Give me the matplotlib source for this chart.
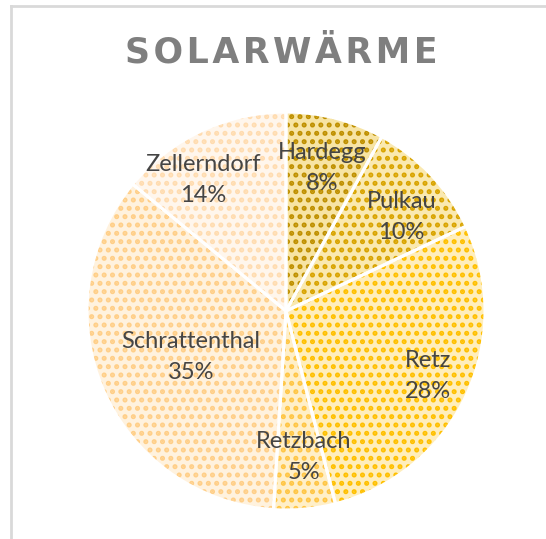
import matplotlib
matplotlib.use("Agg")
import matplotlib.pyplot as plt
import numpy as np

# data
towns = ["Hardegg", "Pulkau", "Retz", "Retzbach", "Schrattenthal", "Zellerndorf"]
shares = [8, 10, 28, 5, 35, 14]

# colours: background tint and pattern colour for each slice
bg_colors = ["#F7E4A4", "#FAE9B0", "#FFEEBC", "#FFEFC8", "#FFF2DE", "#FFF6EC"]
dot_colors = ["#BF9000", "#D9A400", "#FFC000", "#FFC645", "#FFCF88", "#FFDCB0"]
# label placement (radius, angle nudge in degrees)
label_r = [0.74, 0.75, 0.785, 0.74, 0.53, 0.777]
label_nudge = [0, -4, 0.5, 1.5, 2.5, 7]

plt.rcParams["hatch.linewidth"] = 2.4

fig = plt.figure(figsize=(5.46, 5.39), dpi=100)
ax = fig.add_axes([0.1593, 0.0538, 0.729, 0.7384])

wedges, _ = ax.pie(shares, startangle=90, counterclock=False, radius=1,
                   colors=bg_colors, wedgeprops=dict(linewidth=0))
for w, dc in zip(wedges, dot_colors):
    w.set_hatch("..")
    w.set_edgecolor(dc)
    w.set_linewidth(0)

# white separators drawn on top
outline, _ = ax.pie(shares, startangle=90, counterclock=False, radius=1,
                    wedgeprops=dict(facecolor="none", edgecolor="white", linewidth=2.2))

# labels
total = sum(shares)
start = 90.0
for name, val, r, nd in zip(towns, shares, label_r, label_nudge):
    mid = start - 360.0 * val / total / 2
    start -= 360.0 * val / total
    a = np.radians(mid + nd)
    ax.text(r * np.cos(a), r * np.sin(a), f"{name}\n{val / total:.0%}",
            ha="center", va="center", fontsize=17, family="Lato",
            color="#454545", linespacing=1.6)

ax.set_xlim(-1, 1)
ax.set_ylim(-1, 1)
ax.set_aspect("equal")
ax.axis("off")

# title with letter spacing
title = "SOLARWÄRME"
fig.text(0.515, 0.903, "\u200a".join(title), ha="center", va="center",
         fontsize=25, fontweight="bold", family="DejaVu Sans", color="#7F7F7F")

# chart border (only left and top visible in crop)
fig.add_artist(plt.Line2D([0.0195, 0.0195], [0, 0.988], color="#D9D9D9", lw=2,
                          transform=fig.transFigure))
fig.add_artist(plt.Line2D([0.0195, 1], [0.988, 0.988], color="#D9D9D9", lw=2,
                          transform=fig.transFigure))

fig.savefig("out.png", dpi=100, facecolor="white")
